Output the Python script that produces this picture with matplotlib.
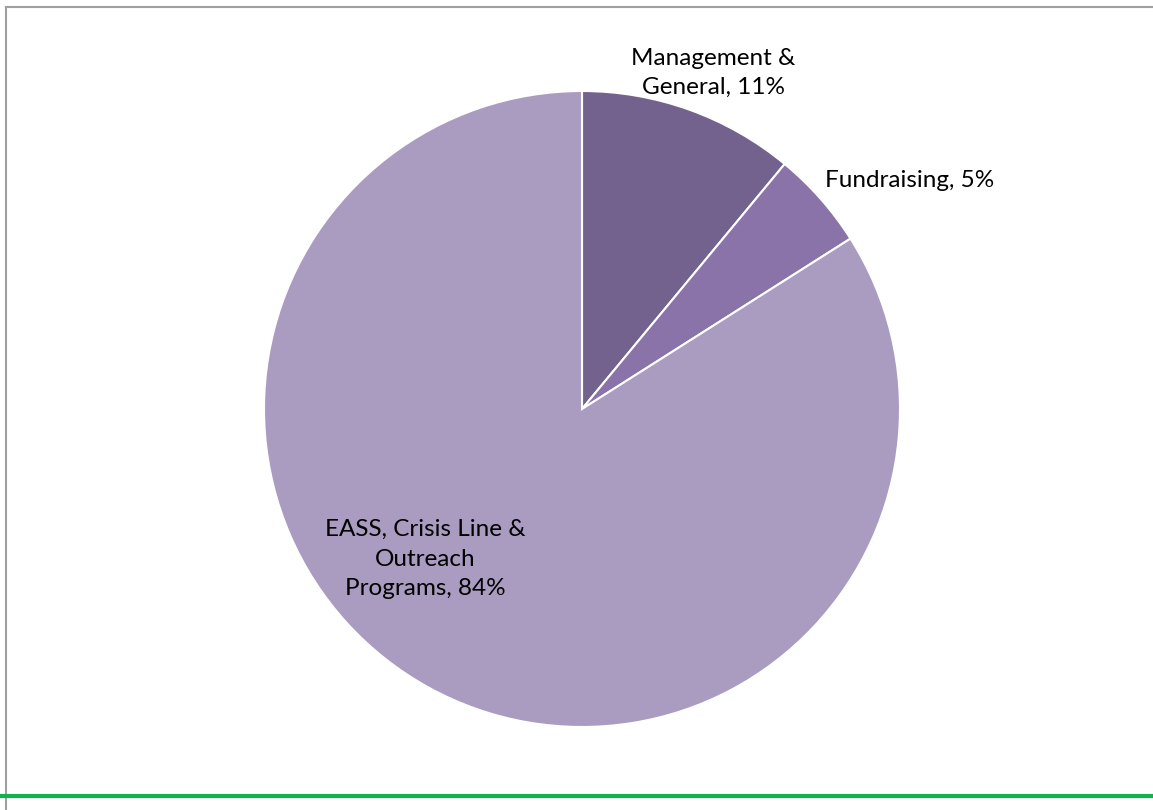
import matplotlib.pyplot as plt
from matplotlib.lines import Line2D

# Expense breakdown
categories = ['Management &\nGeneral', 'Fundraising', 'EASS, Crisis Line &\nOutreach\nPrograms']
shares = [11, 5, 84]
colors = ['#73618E', '#8973A8', '#AA9BC0']

W, H = 1153, 810
fig = plt.figure(figsize=(W / 100, H / 100), dpi=100)
plt.rcParams['font.family'] = ['Lato', 'DejaVu Sans']

# pie centre and radius in pixels
cx, cy, r = 582, 409, 318
ax = fig.add_axes([(cx - r) / W, (H - cy - r) / H, 2 * r / W, 2 * r / H])
wedges, _ = ax.pie(shares, colors=colors, startangle=90, counterclock=False,
                   radius=1.0, wedgeprops=dict(edgecolor='white', linewidth=1.5))
ax.set_xlim(-1, 1)
ax.set_ylim(-1, 1)
ax.set_aspect('equal')
ax.axis('off')

label_pos = [(0.412, 1.057), (1.031, 0.72), (-0.494, -0.472)]
for cat, val, (x, y) in zip(categories, shares, label_pos):
    ax.text(x, y, f'{cat}, {val}%', ha='center', va='center', fontsize=17.5,
            linespacing=1.5, color='black', clip_on=False)

# frame and green rule
fig.add_artist(Line2D([6 / W, 6 / W], [0, 1 - 7 / H], transform=fig.transFigure,
                      color='#A0A0A0', linewidth=1.5))
fig.add_artist(Line2D([6 / W, 1], [1 - 7 / H, 1 - 7 / H], transform=fig.transFigure,
                      color='#A0A0A0', linewidth=1.5))
fig.add_artist(Line2D([0, 1], [1 - 796 / H, 1 - 796 / H], transform=fig.transFigure,
                      color='#12B04E', linewidth=3))

fig.savefig('out.png', dpi=100)
